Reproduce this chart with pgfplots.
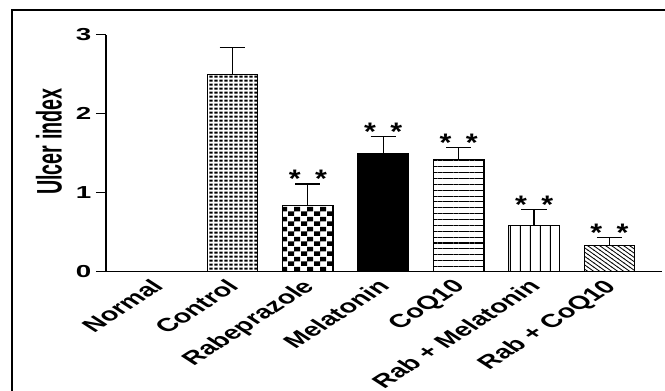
\documentclass[border=0pt]{standalone}
\usepackage{pgfplots}
\pgfplotsset{compat=1.18}
\usepackage{fontspec}
\setmainfont{Liberation Sans}
\usetikzlibrary{patterns}

\pgfdeclarepatternformonly{dotgrid}{\pgfqpoint{0pt}{0pt}}{\pgfqpoint{3.4pt}{2.6pt}}{\pgfqpoint{3.4pt}{2.6pt}}{%
  \pgfpathrectangle{\pgfqpoint{0.3pt}{0.3pt}}{\pgfqpoint{2.6pt}{1.8pt}}\pgfusepath{fill}}
\pgfdeclarepatternformonly{checker}{\pgfqpoint{0pt}{0pt}}{\pgfqpoint{9.4pt}{7.2pt}}{\pgfqpoint{9.4pt}{7.2pt}}{%
  \pgfpathrectangle{\pgfqpoint{0pt}{0pt}}{\pgfqpoint{4.7pt}{3.6pt}}%
  \pgfpathrectangle{\pgfqpoint{4.7pt}{3.6pt}}{\pgfqpoint{4.7pt}{3.6pt}}\pgfusepath{fill}}
\pgfdeclarepatternformonly{hlines}{\pgfqpoint{0pt}{-1pt}}{\pgfqpoint{4pt}{3.4pt}}{\pgfqpoint{4pt}{4.4pt}}{%
  \pgfsetlinewidth{0.8pt}\pgfpathmoveto{\pgfqpoint{-0.1pt}{1pt}}\pgfpathlineto{\pgfqpoint{4.1pt}{1pt}}\pgfusepath{stroke}}
\pgfdeclarepatternformonly{vlines}{\pgfqpoint{-1pt}{0pt}}{\pgfqpoint{6.5pt}{4pt}}{\pgfqpoint{7.5pt}{4pt}}{%
  \pgfsetlinewidth{0.8pt}\pgfpathmoveto{\pgfqpoint{1pt}{-0.1pt}}\pgfpathlineto{\pgfqpoint{1pt}{4.1pt}}\pgfusepath{stroke}}
\pgfdeclarepatternformonly{nwlines}{\pgfqpoint{-0.5pt}{-0.5pt}}{\pgfqpoint{5pt}{3.7pt}}{\pgfqpoint{4.5pt}{3.2pt}}{%
  \pgfsetlinewidth{0.6pt}\pgfpathmoveto{\pgfqpoint{-0.3pt}{3.413pt}}\pgfpathlineto{\pgfqpoint{4.8pt}{-0.213pt}}\pgfusepath{stroke}}

\newcommand\stars{*\hspace{9pt}*}
\pgfplotsset{mybar/.style={ybar, bar width=0.67, bar shift=0pt, draw=black, line width=0.9pt,
   error bars/y dir=plus, error bars/y explicit,
   error bars/error bar style={line width=1pt, black},
   error bars/error mark options={rotate=90, line width=1pt, mark size=9.5pt, black}}}

\begin{document}
\begin{tikzpicture}
\path[use as bounding box] (0,0) rectangle (498.75pt,293.25pt);
\draw[line width=1.7pt] (9.15pt,-5pt) -- (9.15pt,285.9pt) -- (505pt,285.9pt);
\begin{axis}[
  at={(79.5pt,89.5pt)}, anchor=south west,
  scale only axis, width=417pt, height=177.7pt,
  xmin=-0.676, xmax=6.696, ymin=0, ymax=3,
  axis x line*=bottom, axis y line*=left,
  axis line style={line width=1.1pt, black},
  xtick={0,1,2,3,4,5,6},
  xticklabels={Normal,Control,Rabeprazole,Melatonin,CoQ10,Rab + Melatonin,Rab + CoQ10},
  x tick style={draw=none},
  ytick={0,1,2,3}, yticklabels={0,1,2,3},
  y tick style={line width=1.1pt, black},
  tick align=outside, major tick length=7.5pt,
  yticklabel style={font=\bfseries\fontsize{13}{14}\selectfont, xscale=1.6, anchor=east, inner sep=2pt},
  xticklabel style={font=\bfseries\fontsize{14}{15}\selectfont, xscale=1.55, rotate=45, anchor=north east, inner sep=0.5pt, yshift=5pt},
  ylabel={Ulcer index},
  every axis y label/.style={at={(axis description cs:-0.1025,0.549)}, rotate=90, yscale=1.8, anchor=center, font=\bfseries\fontsize{14.8}{15}\selectfont},
  clip=false,
]
\addplot[ybar, bar width=0.67, bar shift=0pt, draw=none, fill=none] coordinates {(0,0)};
\addplot[mybar, pattern=dotgrid] coordinates {(1,2.5) +- (0,0.335)};
\addplot[mybar, pattern=checker] coordinates {(2,0.835) +- (0,0.275)};
\addplot[mybar, fill=black] coordinates {(3,1.50) +- (0,0.21)};
\addplot[mybar, pattern=hlines] coordinates {(4,1.42) +- (0,0.155)};
\addplot[mybar, pattern=vlines] coordinates {(5,0.58) +- (0,0.205)};
\addplot[mybar, pattern=nwlines] coordinates {(6,0.334) +- (0,0.10)};
\addplot[ybar, bar width=0.67, bar shift=0pt, draw=none, fill=none,
  nodes near coords={\stars},
  every node near coord/.append style={anchor=south, inner sep=0pt, yshift=-3pt, xscale=1.2, font=\bfseries\fontsize{19}{20}\selectfont}]
  coordinates {(2,1.11) (3,1.71) (4,1.575) (5,0.785) (6,0.435)};
\end{axis}
\end{tikzpicture}
\end{document}
